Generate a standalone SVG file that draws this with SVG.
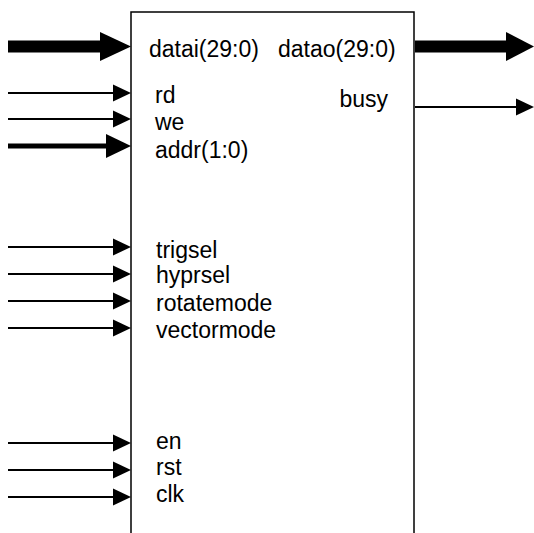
<svg xmlns="http://www.w3.org/2000/svg" width="534" height="533" viewBox="0 0 534 533">
<style>
.lbl{font-family:"Liberation Sans",Arial,sans-serif;font-size:23px;fill:#000}
.thin{stroke:#000;stroke-width:2;fill:none}
.med{stroke:#000;stroke-width:5;fill:none}
.thick{stroke:#000;stroke-width:12;fill:none}
.head{fill:#000}
</style>
<rect width="534" height="533" fill="#fff"/>
<g id="block">
<rect x="131" y="12" width="283" height="540" fill="#fff" stroke="#000" stroke-width="1.5"/>
<text class="lbl" x="149" y="57">datai(29:0)</text>
<text class="lbl" x="278" y="57">datao(29:0)</text>
<text class="lbl" x="155" y="103">rd</text>
<text class="lbl" x="155" y="130">we</text>
<text class="lbl" x="155" y="158">addr(1:0)</text>
<text class="lbl" x="388" y="107" text-anchor="end">busy</text>
<text class="lbl" x="156" y="258">trigsel</text>
<text class="lbl" x="156" y="283">hyprsel</text>
<text class="lbl" x="156" y="311">rotatemode</text>
<text class="lbl" x="156" y="338">vectormode</text>
<text class="lbl" x="156" y="449">en</text>
<text class="lbl" x="156" y="475">rst</text>
<text class="lbl" x="156" y="502">clk</text>
</g>
<g id="connectors">
<line class="thick" x1="8" y1="46.5" x2="101" y2="46.5"/>
<polygon class="head" points="100,32 131,46.5 100,61"/>
<line class="thin" x1="8" y1="93" x2="114" y2="93"/>
<polygon class="head" points="113,84.5 131,93 113,101.5"/>
<line class="thin" x1="8" y1="119" x2="114" y2="119"/>
<polygon class="head" points="113,110.5 131,119 113,127.5"/>
<line class="med" x1="8" y1="146" x2="107" y2="146"/>
<polygon class="head" points="106,134 131,146 106,158"/>
<line class="thin" x1="8" y1="247" x2="114" y2="247"/>
<polygon class="head" points="113,238.5 131,247 113,255.5"/>
<line class="thin" x1="8" y1="274" x2="114" y2="274"/>
<polygon class="head" points="113,265.5 131,274 113,282.5"/>
<line class="thin" x1="8" y1="301" x2="114" y2="301"/>
<polygon class="head" points="113,292.5 131,301 113,309.5"/>
<line class="thin" x1="8" y1="328" x2="114" y2="328"/>
<polygon class="head" points="113,319.5 131,328 113,336.5"/>
<line class="thin" x1="8" y1="443" x2="114" y2="443"/>
<polygon class="head" points="113,434.5 131,443 113,451.5"/>
<line class="thin" x1="8" y1="470" x2="114" y2="470"/>
<polygon class="head" points="113,461.5 131,470 113,478.5"/>
<line class="thin" x1="8" y1="497" x2="114" y2="497"/>
<polygon class="head" points="113,488.5 131,497 113,505.5"/>
<line class="thick" x1="415" y1="46.5" x2="507" y2="46.5"/>
<polygon class="head" points="506,32 534,46.5 506,61"/>
<line class="thin" x1="415" y1="107" x2="517" y2="107"/>
<polygon class="head" points="516,98.5 534,107 516,115.5"/>
</g>
</svg>
